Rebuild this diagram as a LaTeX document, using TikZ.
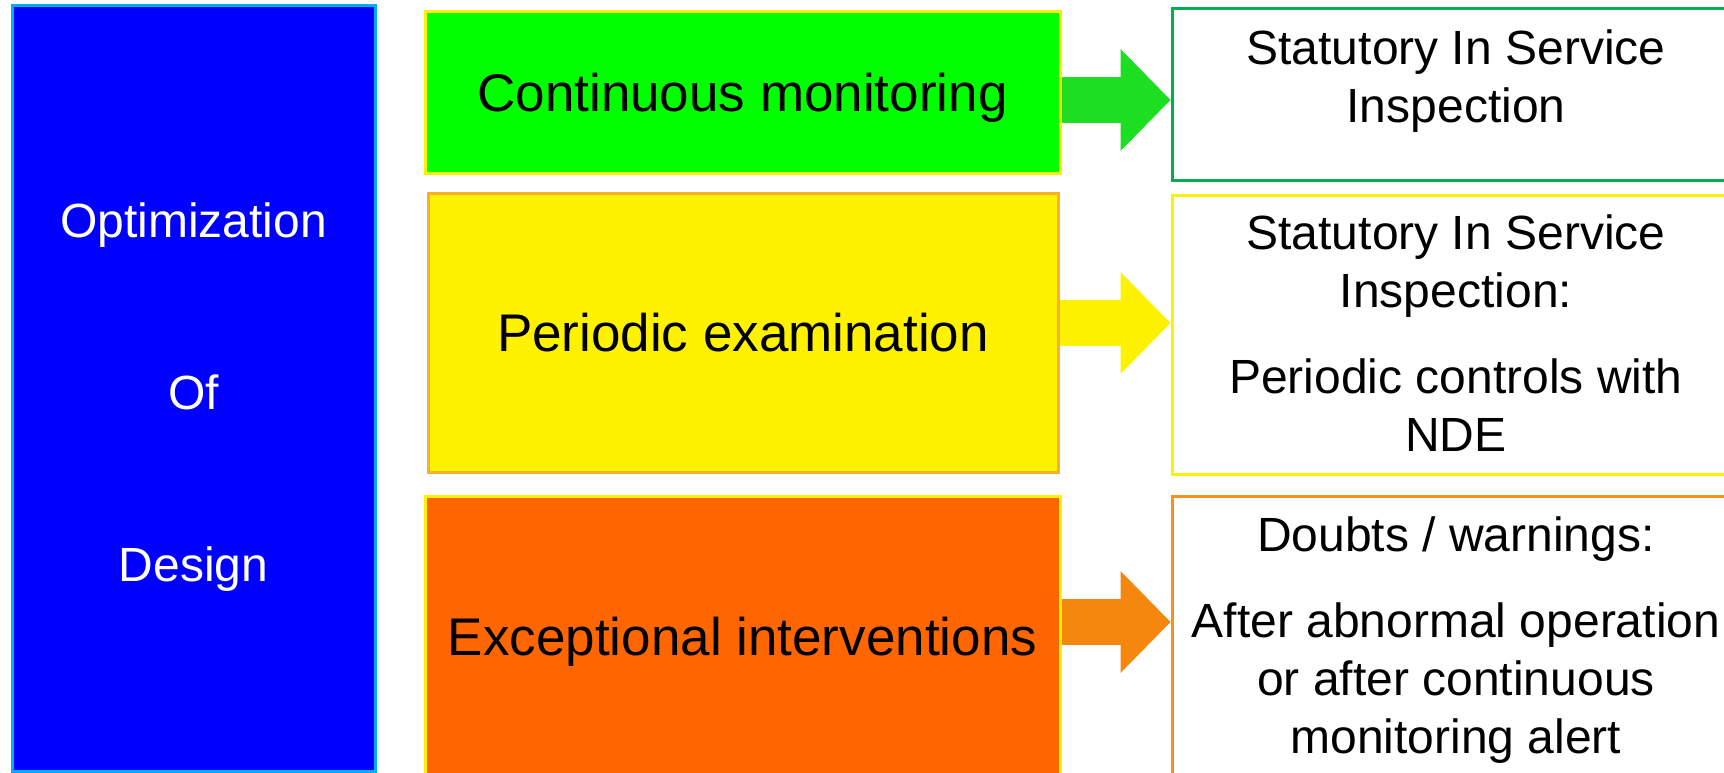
\documentclass[tikz,border=0pt]{standalone}
\usepackage{fontspec}
\setmainfont{Liberation Sans}
\usetikzlibrary{arrows.meta,positioning,calc}

\definecolor{examedge}{RGB}{250,175,40}
\definecolor{intervfill}{RGB}{255,102,0}
\definecolor{arrgreen}{RGB}{30,222,34}
\definecolor{arrorange}{RGB}{245,135,15}
\definecolor{inspedge}{RGB}{0,176,80}
\definecolor{warnedge}{RGB}{245,145,30}

\begin{document}
\begin{tikzpicture}[x=1pt,y=-1pt,
    box/.style={draw, rectangle, line width=3pt, inner sep=0pt, align=center},
    lefttext/.style={font=\fontsize{53}{64}\selectfont},
    righttext/.style={inner sep=0pt, align=center, anchor=north,
        font=\fontsize{48}{58}\selectfont}]
    \useasboundingbox (0,0) rectangle (1724,773);

    % Left column
    \node[box, draw=cyan, fill=blue, minimum width=363pt, minimum height=765pt] (design) at (193.5,388.5) {};
    \node[text=white, align=center, font=\fontsize{48}{172}\selectfont]
        (designtext) at ([yshift=-9pt]design.center) {Optimization\\Of\\Design};

    % Middle column
    \node[box, lefttext, text depth=0pt, draw=yellow, fill=green, minimum width=635pt, minimum height=161pt]
        (monit) at (742.5,92.5) {Continuous monitoring};
    \node[box, lefttext, draw=examedge, fill=yellow, minimum width=630pt, minimum height=279pt]
        (exam) at (743,332.5) {Periodic examination};
    \node[box, lefttext, text depth=0pt, draw=yellow, fill=intervfill, minimum width=635pt, minimum height=280pt]
        (interv) at (742.5,636) {Exceptional interventions};

    % Right column
    \node[box, draw=inspedge, minimum width=568pt, minimum height=171pt] (insp) at (1456,94.5) {};
    \node[box, draw=yellow, minimum width=568pt, minimum height=279pt] (ctrl) at (1456,334.5) {};
    \node[box, draw=warnedge, minimum width=568pt, minimum height=280pt] (warn) at (1456,636) {};

    \node[righttext] (insptext) at ([yshift=-22pt]insp.north) {Statutory In Service\\Inspection};
    \node[righttext] (ctrltext) at ([yshift=-21pt]ctrl.north)
        {Statutory In Service\\Inspection:\\[28pt]Periodic controls with\\NDE};
    \node[righttext] (warntext) at ([yshift=-22pt]warn.north)
        {Doubts / warnings:\\[28pt]After abnormal operation\\or after continuous\\monitoring alert};

    % Block arrows
    \foreach \a/\b/\c/\dy in {monit/insp/arrgreen/-7.5, exam/ctrl/yellow/9.5, interv/warn/arrorange/14} {
        \draw[line width=46pt, draw=\c, -{Triangle[length=50pt, width=102pt, line width=0pt]}]
            ([yshift=\dy pt]\a.east) -- ([yshift=\dy pt]\a.east -| \b.west);
    }
\end{tikzpicture}
\end{document}
